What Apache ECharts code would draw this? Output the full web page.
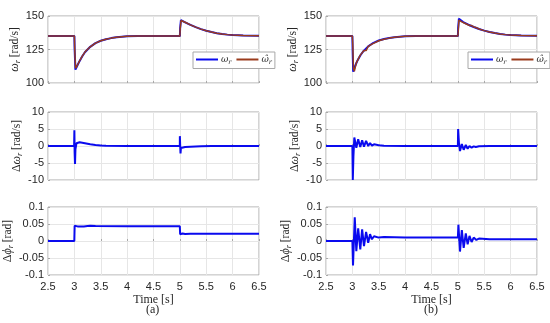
<!DOCTYPE html>
<html><head><meta charset="utf-8">
<script src="https://cdn.jsdelivr.net/npm/echarts@6/dist/echarts.min.js"></script>
<style>html,body{margin:0;padding:0;background:#fff}#c{width:550px;height:323px}</style>
</head><body><div id="c"></div>
<script>
// ---------- DATA ----------
const xTicks = [2.5, 3, 3.5, 4, 4.5, 5, 5.5, 6, 6.5];
const yTicksW = [100, 125, 150];
const yTicksDW = [-10, -5, 0, 5, 10];
const yTicksDP = [-0.1, -0.05, 0, 0.05, 0.1];

// (a) rotor speed, actual
const wA_t = [2.5, 3.0, 3.005, 3.02, 3.05, 3.1, 3.15, 3.2, 3.3, 3.4, 3.5, 3.6, 3.7, 3.8, 3.9, 4.0, 4.2, 4.5, 5.0, 5.005, 5.02, 5.05, 5.1, 5.2, 5.3, 5.4, 5.5, 5.6, 5.7, 5.8, 5.9, 6.0, 6.2, 6.5];
const wA_v = [135, 135, 125, 110, 112.5, 116.5, 120, 123, 127, 129.8, 131.5, 132.7, 133.5, 134.1, 134.5, 134.8, 135, 135, 135, 141, 147, 146.4, 145.3, 143.4, 141.7, 140.2, 139, 138, 137.2, 136.6, 136.1, 135.8, 135.4, 135.2];
// (a) rotor speed, estimated
const wAe_t = [2.5, 3.0, 3.006, 3.022, 3.05, 3.1, 3.15, 3.2, 3.3, 3.4, 3.5, 3.6, 3.7, 3.8, 3.9, 4.0, 4.2, 4.5, 5.0, 5.006, 5.022, 5.05, 5.1, 5.2, 5.3, 5.4, 5.5, 5.6, 5.7, 5.8, 5.9, 6.0, 6.2, 6.5];
const wAe_v = [135, 135, 126, 111, 112.7, 116.6, 120.1, 123.1, 127, 129.8, 131.5, 132.7, 133.5, 134.1, 134.5, 134.8, 135, 135, 135, 140.5, 146.6, 146.3, 145.3, 143.4, 141.7, 140.2, 139, 138, 137.2, 136.6, 136.1, 135.8, 135.4, 135.2];

// (b) rotor speed, actual
const wB_t = [2.5, 3.0, 3.005, 3.015, 3.05, 3.1, 3.15, 3.2, 3.3, 3.4, 3.5, 3.6, 3.7, 3.8, 3.9, 4.0, 4.2, 4.5, 5.0, 5.005, 5.02, 5.05, 5.1, 5.2, 5.3, 5.4, 5.5, 5.6, 5.7, 5.8, 5.9, 6.0, 6.2, 6.5];
const wB_v = [135, 135, 124, 108.5, 112.5, 117, 120.5, 123.3, 127.3, 130, 131.7, 132.8, 133.6, 134.1, 134.5, 134.8, 135, 135, 135, 141, 148, 146.8, 145.5, 143.5, 141.8, 140.3, 139.1, 138.1, 137.3, 136.6, 136.1, 135.8, 135.4, 135.2];
// (b) rotor speed, estimated
const wBe_t = [2.5, 3.0, 3.008, 3.02, 3.037, 3.075, 3.11, 3.15, 3.185, 3.22, 3.26, 3.3, 3.335, 3.37, 3.41, 3.5, 3.6, 3.7, 3.8, 3.9, 4.0, 4.2, 5.0, 5.005, 5.02, 5.04, 5.075, 5.11, 5.15, 5.185, 5.22, 5.26, 5.3, 5.34, 5.4, 5.5, 5.6, 5.7, 5.8, 5.9, 6.0, 6.2, 6.5];
const wBe_v = [135, 135, 128, 111, 108.8, 115, 115.7, 120.8, 120.8, 124.2, 124.2, 127.3, 127.3, 129, 129.8, 131.5, 132.7, 133.5, 134.1, 134.5, 134.8, 135, 135, 136, 147, 148.3, 145.6, 146.3, 144.2, 144.5, 142.9, 142.9, 141.8, 141.5, 140.3, 139.1, 138.1, 137.3, 136.6, 136.1, 135.8, 135.4, 135.2];

// (a) speed error
const dwA_t = [2.5, 2.995, 3.0, 3.005, 3.012, 3.02, 3.04, 3.06, 3.1, 3.2, 3.3, 3.4, 3.5, 3.6, 4.0, 4.999, 5.0, 5.005, 5.012, 5.02, 5.05, 5.1, 5.2, 5.4, 5.6, 6.5];
const dwA_v = [0, 0, 4.6, -2, -5.3, -1, 0.8, 1.2, 1.1, 0.8, 0.5, 0.3, 0.15, 0.05, 0, 0, 2.9, 0.5, -2.2, -0.6, -0.4, -0.3, -0.2, -0.1, 0, 0];
// (b) speed error
const dwB_t = [2.5, 3.0, 3.008, 3.02, 3.037, 3.075, 3.11, 3.15, 3.185, 3.22, 3.26, 3.3, 3.335, 3.37, 3.41, 3.5, 3.6, 4.0, 5.0, 5.005, 5.02, 5.04, 5.075, 5.11, 5.15, 5.185, 5.22, 5.26, 5.3, 5.34, 5.4, 5.6, 6.5];
const dwB_v = [0, 0, -10, -3, 2.5, -0.5, 2.0, -0.3, 1.7, -0.2, 1.5, 0, 0.9, 0.1, 0.5, 0.2, 0.1, 0, 0, 5, 1, -1.5, 0.6, -1.1, 0.3, -0.8, 0, -0.5, -0.1, -0.3, -0.1, 0, 0];

// (a) flux angle error
const dpA_t = [2.5, 2.999, 3.005, 3.03, 3.06, 3.09, 3.12, 3.15, 3.18, 3.21, 3.25, 3.3, 3.4, 4.0, 4.999, 5.005, 5.05, 5.1, 5.2, 5.5, 6.5];
const dpA_v = [0, 0, 0.045, 0.048, 0.043, 0.047, 0.043, 0.046, 0.043, 0.045, 0.044, 0.0445, 0.044, 0.0435, 0.0435, 0.02, 0.022, 0.0205, 0.021, 0.021, 0.021];
// (b) flux angle error
const dpB_t = [2.5, 3.0, 3.012, 3.045, 3.075, 3.11, 3.15, 3.185, 3.22, 3.26, 3.3, 3.335, 3.37, 3.41, 3.5, 3.6, 4.0, 5.0, 5.01, 5.04, 5.075, 5.11, 5.15, 5.185, 5.22, 5.26, 5.3, 5.35, 5.4, 5.6, 6.5];
const dpB_v = [0, 0, -0.072, 0.07, -0.03, 0.037, -0.025, 0.034, -0.015, 0.027, -0.005, 0.02, 0.005, 0.014, 0.01, 0.012, 0.01, 0.01, 0.048, -0.031, 0.032, -0.02, 0.022, -0.01, 0.015, -0.003, 0.01, 0.003, 0.007, 0.005, 0.005];

// ---------- CHART ----------
const zip = (t, v) => t.map((x, i) => [x, v[i]]);
const BLUE = '#0a0aee', RED = '#9a3b1c';
const SANS = 'Liberation Sans, Arial, sans-serif';
const SERIF = 'Liberation Serif, Times New Roman, serif';
const DSERIF = 'DejaVu Serif, serif';

const colL = 48, colR = 326, W = 211;
const rows = [{top: 16, h: 67}, {top: 112, h: 68}, {top: 207, h: 68}];
const grids = [];
rows.forEach(r => { [colL, colR].forEach(l => grids.push({left: l, top: r.top, width: W, height: r.h, show: true, borderColor: '#a8a8a8', borderWidth: 1, backgroundColor: '#fff'})); });

const nameRich = {
  n: {fontFamily: SERIF, fontSize: 12, color: '#262626'},
  g: {fontFamily: SERIF, fontSize: 12, fontStyle: 'italic', color: '#262626'},
  s: {fontFamily: SERIF, fontSize: 8, fontStyle: 'italic', color: '#262626', padding: [6, 0, 0, 0]},
  u: {fontFamily: SERIF, fontSize: 11.5, color: '#262626'}
};
const yNames = ['{g|ω}{s|r}{u| [rad/s]}', '{n|Δ}{g|ω}{s|r}{u| [rad/s]}', '{n|Δ}{g|ϕ}{s|r}{u| [rad]}'];
const yRanges = [[100, 150, 25], [-10, 10, 5], [-0.1, 0.1, 0.05]];

const xAxes = [], yAxes = [];
for (let i = 0; i < 6; i++) {
  const row = Math.floor(i / 2);
  const bottom = row === 2;
  xAxes.push({
    gridIndex: i, type: 'value', min: xTicks[0], max: xTicks[xTicks.length - 1], interval: 0.5,
    axisLine: {show: false}, axisTick: {show: true, inside: true, length: 2, lineStyle: {color: '#a8a8a8'}},
    splitLine: {show: true, lineStyle: {color: '#e6e6e6', width: 1}},
    axisLabel: {show: bottom, fontFamily: SANS, fontSize: 11, color: '#262626', margin: 6},
    name: bottom ? 'Time [s]' : '', nameLocation: 'middle', nameGap: 19,
    nameTextStyle: {fontFamily: SERIF, fontSize: 12, color: '#262626'}
  });
  const rg = yRanges[row];
  yAxes.push({
    gridIndex: i, type: 'value', min: rg[0], max: rg[1], interval: rg[2],
    axisLine: {show: false}, axisTick: {show: true, inside: true, length: 2, lineStyle: {color: '#a8a8a8'}},
    splitLine: {show: true, lineStyle: {color: '#e6e6e6', width: 1}},
    axisLabel: {fontFamily: SANS, fontSize: 11, color: '#262626', margin: 4},
    name: yNames[row], nameLocation: 'middle', nameGap: row === 0 ? 24 : (row === 1 ? 22 : 29), nameRotate: 90,
    nameTextStyle: {rich: nameRich}
  });
}

const line = (name, data, idx, color, w) => ({
  name, type: 'line', xAxisIndex: idx, yAxisIndex: idx, data, symbol: 'none', showSymbol: false,
  lineStyle: {color, width: w}, itemStyle: {color}, animation: false
});

const series = [
  line('w', zip(wA_t, wA_v), 0, BLUE, 2),
  line('wh', zip(wAe_t, wAe_v), 0, RED, 1.5),
  line('w', zip(wB_t, wB_v), 1, BLUE, 2),
  line('wh', zip(wBe_t, wBe_v), 1, RED, 1.5),
  line('dwa', zip(dwA_t, dwA_v), 2, BLUE, 2),
  line('dwb', zip(dwB_t, dwB_v), 3, BLUE, 2),
  line('dpa', zip(dpA_t, dpA_v), 4, BLUE, 2),
  line('dpb', zip(dpB_t, dpB_v), 5, BLUE, 2)
];

const legRich = {
  g: {fontFamily: DSERIF, fontSize: 9, fontStyle: 'italic', color: '#262626'},
  s: {fontFamily: DSERIF, fontSize: 6.5, fontStyle: 'italic', color: '#262626', padding: [5, 0, 0, 0]}
};
const legend = (left) => ({
  left, top: 52, data: ['w', 'wh'], orient: 'horizontal', itemGap: 5, itemWidth: 22, itemHeight: 2,
  icon: 'rect',
  padding: [3, 3, 3, 3], backgroundColor: '#fff', borderColor: '#a8a8a8', borderWidth: 1, borderRadius: 0,
  selectedMode: false,
  formatter: n => n === 'w' ? '{g|ω}{s|r}' : '{g|ω\u0302}{s|r}',
  textStyle: {rich: legRich, padding: [0, 0, 0, -2]}
});

const chart = echarts.init(document.getElementById('c'), null, {renderer: 'canvas'});
chart.setOption({
  animation: false,
  backgroundColor: '#fff',
  grid: grids, xAxis: xAxes, yAxis: yAxes, series,
  legend: [legend(193), legend(468)],
  graphic: [
    {type: 'text', left: 146, top: 304, style: {text: '(a)', font: '12px ' + SERIF, fill: '#262626'}},
    {type: 'text', left: 424, top: 304, style: {text: '(b)', font: '12px ' + SERIF, fill: '#262626'}}
  ]
});
</script></body></html>
